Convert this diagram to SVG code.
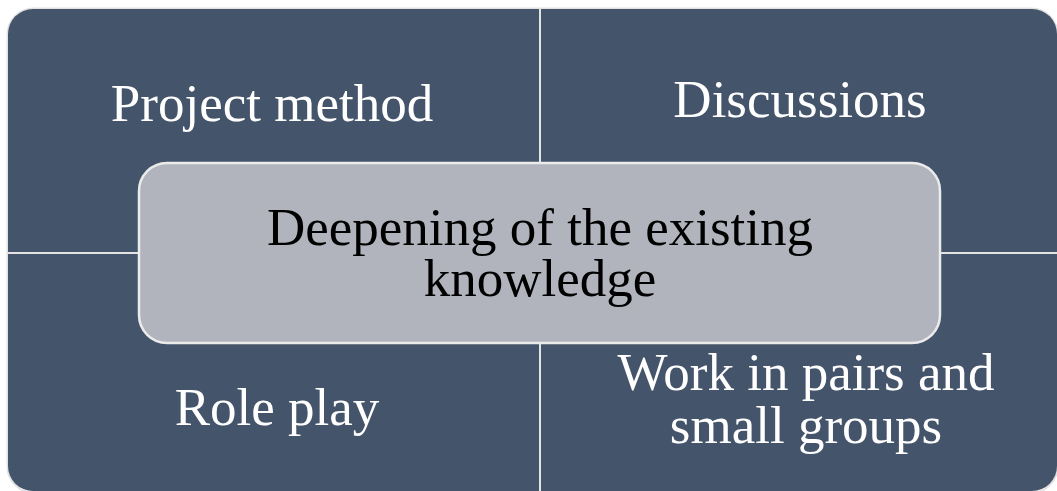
<svg xmlns="http://www.w3.org/2000/svg" width="1057" height="491" viewBox="0 0 1057 491">
  <style>
    .quad { fill: #44546A; }
    .qtext { font-family: "Liberation Serif", "Times New Roman", serif; font-size: 53px; fill: #FFFFFF; text-anchor: middle; }
    .ctext { font-family: "Liberation Serif", "Times New Roman", serif; font-size: 53px; fill: #000000; text-anchor: middle; }
    .divider { stroke: #E3E3E3; stroke-width: 2; fill: none; }
  </style>
  <rect x="0" y="0" width="1057" height="491" fill="#FFFFFF"/>
  <rect x="7.5" y="8.5" width="1050" height="484" rx="26" ry="26" fill="none" stroke="#E2E2E2" stroke-width="2"/>
  <g id="node-project-method">
    <path class="quad" d="M8,34 A25,25 0 0 1 33,9 H540 V253 H8 Z"/>
    <text class="qtext" x="272" y="121">Project method</text>
  </g>
  <g id="node-discussions">
    <path class="quad" d="M540,9 H1032 A25,25 0 0 1 1057,34 V253 H540 Z"/>
    <text class="qtext" x="800" y="117">Discussions</text>
  </g>
  <g id="node-role-play">
    <path class="quad" d="M8,253 H540 V491 H33 A25,25 0 0 1 8,466 Z"/>
    <text class="qtext" x="277" y="425">Role play</text>
  </g>
  <g id="node-work-in-pairs">
    <path class="quad" d="M540,253 H1057 V466 A25,25 0 0 1 1032,491 H540 Z"/>
    <text class="qtext" x="806" y="390">Work in pairs and</text>
    <text class="qtext" x="806" y="443">small groups</text>
  </g>
  <g id="connectors">
    <line class="divider" x1="540" y1="9" x2="540" y2="491"/>
    <line class="divider" x1="8" y1="253" x2="1057" y2="253"/>
  </g>
  <g id="node-center">
    <rect x="139" y="163" width="801" height="180" rx="28" ry="28" fill="#B1B4BC" stroke="#EBEBEB" stroke-width="2.5"/>
    <text class="ctext" x="540" y="245">Deepening of the existing</text>
    <text class="ctext" x="540" y="296">knowledge</text>
  </g>
</svg>
